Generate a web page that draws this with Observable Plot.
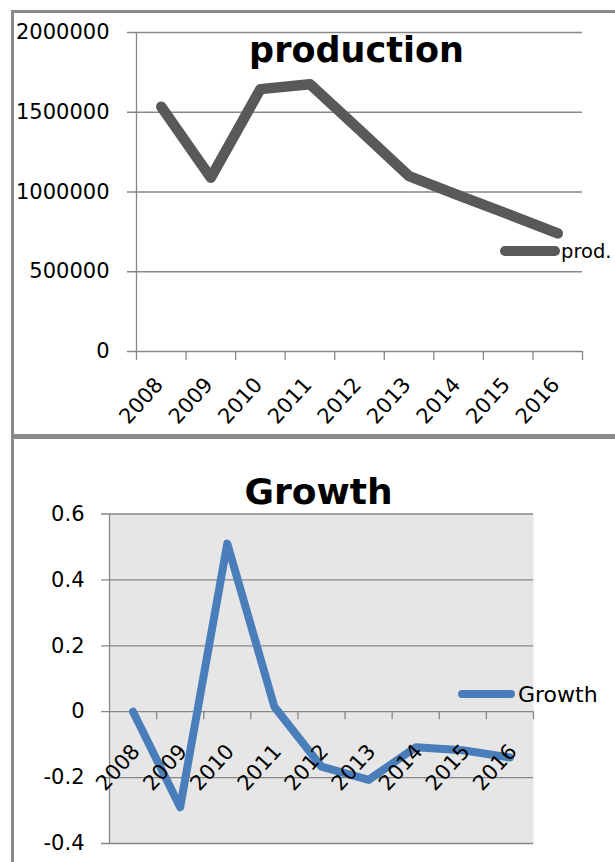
<!DOCTYPE html>
<html>
<head>
<meta charset="utf-8">
<script src="https://cdn.jsdelivr.net/npm/d3@7"></script>
<script src="https://cdn.jsdelivr.net/npm/@observablehq/plot@0.6"></script>
<style>
  body { margin: 0; background: #fff; }
  #wrap { position: relative; width: 615px; height: 862px; overflow: hidden; font-family: "DejaVu Sans", sans-serif; color: #000; }
  .frame { position: absolute; border: 3px solid #8a8a8a; box-sizing: border-box; }
  .chart { position: absolute; left: 0; }
  .title { position: absolute; font-weight: bold; line-height: 1; white-space: nowrap; transform: translateX(-50%); }
  .legtext { position: absolute; line-height: 1; white-space: nowrap; }
  .swatch { position: absolute; }
</style>
</head>
<body>
<div id="wrap">
  <div class="frame" style="left:11px; top:10px; width:700px; height:427px;"></div>
  <div class="frame" style="left:11px; top:436px; width:700px; height:500px;"></div>
  <div id="chart1" class="chart" style="top:0px;"></div>
  <div id="chart2" class="chart" style="top:440px;"></div>
  <div class="title" id="title1" style="left:356.5px; top:32.5px; font-size:35px;"></div>
  <div class="title" id="title2" style="left:318.5px; top:473.5px; font-size:36px;"></div>
  <div class="swatch" style="left:500px; top:246px; width:60px; height:10px; border-radius:5px; background:#595959;"></div>
  <div class="legtext" id="leg1" style="left:561px; top:241.5px; font-size:19.5px;"></div>
  <div class="swatch" style="left:458px; top:690px; width:57px; height:8px; border-radius:4px; background:#4a7ebb;"></div>
  <div class="legtext" id="leg2" style="left:518px; top:684px; font-size:22px;"></div>
</div>
<script>
// ---- data ----
const years = [2008, 2009, 2010, 2011, 2012, 2013, 2014, 2015, 2016];
const production = [1535000, 1090000, 1645000, 1676000, 1390000, 1100000, 979000, 861000, 740000];
const growth = [0, -0.29, 0.51, 0.015, -0.167, -0.207, -0.108, -0.117, -0.139];
const productionTicks = [0, 500000, 1000000, 1500000, 2000000];
const growthTicks = [-0.4, -0.2, 0, 0.2, 0.4, 0.6];
const titles = ["production", "Growth"];
const legendLabels = ["prod.", "Growth"];

document.getElementById("title1").textContent = titles[0];
document.getElementById("title2").textContent = titles[1];
document.getElementById("leg1").textContent = legendLabels[0];
document.getElementById("leg2").textContent = legendLabels[1];

const GRID = "#878787";
const FONT = "DejaVu Sans";
const TICK_FONT = 21;
const edges = [years[0] - 0.5, ...years.map(y => y + 0.5)];
const xDomain = [edges[0], edges[edges.length - 1]];

const prodData = years.map((year, i) => ({year, value: production[i]}));
const growthData = years.map((year, i) => ({year, value: growth[i]}));

const chart1 = Plot.plot({
  width: 615,
  height: 440,
  marginTop: 32,
  marginBottom: 89,
  marginLeft: 136,
  marginRight: 33,
  style: {fontFamily: FONT, background: "transparent", overflow: "visible"},
  x: {type: "linear", domain: xDomain, axis: null},
  y: {domain: [productionTicks[0], productionTicks[productionTicks.length - 1]], axis: null},
  marks: [
    Plot.ruleY(productionTicks, {y: d => d, x1: xDomain[0], x2: xDomain[1], insetLeft: -9, stroke: GRID, strokeWidth: 1.3}),
    Plot.ruleX([edges[0]], {x: d => d, y1: productionTicks[productionTicks.length - 1], y2: 0, insetBottom: -9, stroke: GRID, strokeWidth: 1.3}),
    Plot.ruleX(edges.slice(1), {x: d => d, y1: 0, y2: 0, insetBottom: -9, stroke: GRID, strokeWidth: 1.3}),
    Plot.line(prodData, {x: "year", y: "value", stroke: "#595959", strokeWidth: 10.5, strokeLinecap: "round", strokeLinejoin: "round"}),
    Plot.text(productionTicks, {y: d => d, text: d => String(d), frameAnchor: "left", textAnchor: "end", dx: -27, fontSize: TICK_FONT, fontFamily: FONT, fill: "#000"}),
    Plot.text(years, {x: d => d, text: d => String(d), frameAnchor: "bottom", rotate: -48, textAnchor: "end", dx: 3, dy: 34, fontSize: TICK_FONT, fontFamily: FONT, fill: "#000"})
  ]
});
document.getElementById("chart1").appendChild(chart1);

const chart2 = Plot.plot({
  width: 615,
  height: 422,
  marginTop: 73.5,
  marginBottom: 19,
  marginLeft: 109,
  marginRight: 82,
  style: {fontFamily: FONT, background: "transparent", overflow: "visible"},
  x: {type: "linear", domain: xDomain, axis: null},
  y: {domain: [growthTicks[0], growthTicks[growthTicks.length - 1]], axis: null},
  marks: [
    Plot.frame({fill: "#e6e6e6", stroke: "none"}),
    Plot.ruleY(growthTicks, {y: d => d, x1: xDomain[0], x2: xDomain[1], insetLeft: -8, stroke: GRID, strokeWidth: 1.3}),
    Plot.ruleX([edges[0]], {x: d => d, y1: growthTicks[growthTicks.length - 1], y2: growthTicks[0], stroke: GRID, strokeWidth: 1.3}),
    Plot.ruleX(edges.slice(1), {x: d => d, y1: 0, y2: 0, insetBottom: -8, stroke: GRID, strokeWidth: 1.3}),
    Plot.line(growthData, {x: "year", y: "value", stroke: "#4a7ebb", strokeWidth: 8, strokeLinecap: "round", strokeLinejoin: "round"}),
    Plot.text(growthTicks, {y: d => d, text: d => String(d), frameAnchor: "left", textAnchor: "end", dx: -25, fontSize: TICK_FONT, fontFamily: FONT, fill: "#000"}),
    Plot.text(years, {x: d => d, y: d => 0, text: d => String(d), rotate: -48, textAnchor: "end", dx: 3, dy: 36, fontSize: TICK_FONT, fontFamily: FONT, fill: "#000"})
  ]
});
document.getElementById("chart2").appendChild(chart2);
</script>
</body>
</html>
